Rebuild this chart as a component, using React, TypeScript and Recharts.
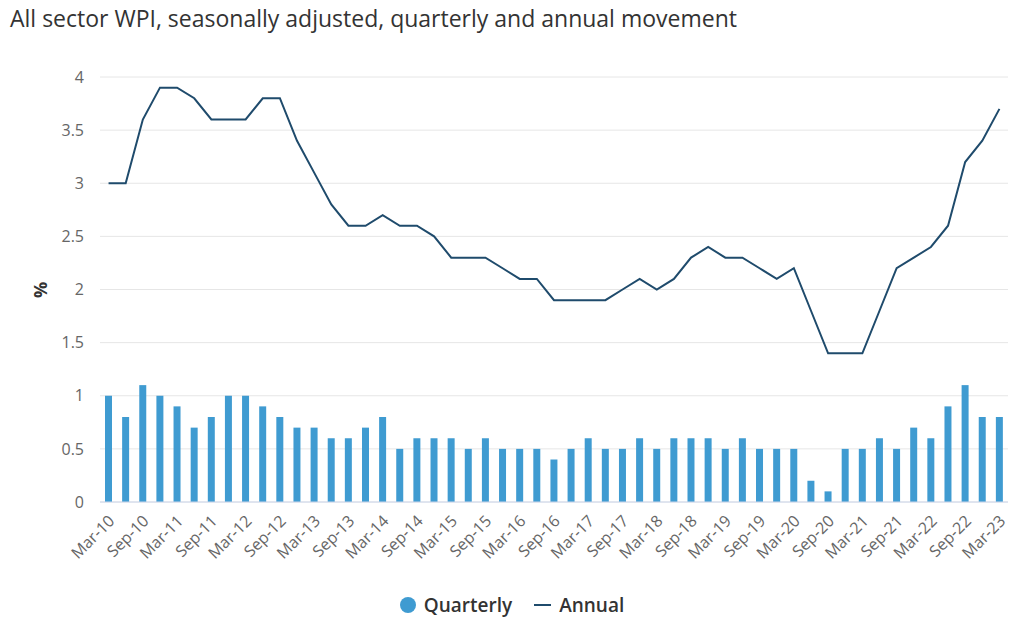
import React from 'react';
import { ComposedChart, Bar, Line, XAxis, YAxis, CartesianGrid, Legend } from 'recharts';

const quarters: string[] = [
  'Mar-10','Jun-10','Sep-10','Dec-10','Mar-11','Jun-11','Sep-11','Dec-11',
  'Mar-12','Jun-12','Sep-12','Dec-12','Mar-13','Jun-13','Sep-13','Dec-13',
  'Mar-14','Jun-14','Sep-14','Dec-14','Mar-15','Jun-15','Sep-15','Dec-15',
  'Mar-16','Jun-16','Sep-16','Dec-16','Mar-17','Jun-17','Sep-17','Dec-17',
  'Mar-18','Jun-18','Sep-18','Dec-18','Mar-19','Jun-19','Sep-19','Dec-19',
  'Mar-20','Jun-20','Sep-20','Dec-20','Mar-21','Jun-21','Sep-21','Dec-21',
  'Mar-22','Jun-22','Sep-22','Dec-22','Mar-23',
];

const quarterly: number[] = [
  1.0, 0.8, 1.1, 1.0, 0.9, 0.7, 0.8, 1.0,
  1.0, 0.9, 0.8, 0.7, 0.7, 0.6, 0.6, 0.7,
  0.8, 0.5, 0.6, 0.6, 0.6, 0.5, 0.6, 0.5,
  0.5, 0.5, 0.4, 0.5, 0.6, 0.5, 0.5, 0.6,
  0.5, 0.6, 0.6, 0.6, 0.5, 0.6, 0.5, 0.5,
  0.5, 0.2, 0.1, 0.5, 0.5, 0.6, 0.5, 0.7,
  0.6, 0.9, 1.1, 0.8, 0.8,
];

const annual: number[] = [
  3.0, 3.0, 3.6, 3.9, 3.9, 3.8, 3.6, 3.6,
  3.6, 3.8, 3.8, 3.4, 3.1, 2.8, 2.6, 2.6,
  2.7, 2.6, 2.6, 2.5, 2.3, 2.3, 2.3, 2.2,
  2.1, 2.1, 1.9, 1.9, 1.9, 1.9, 2.0, 2.1,
  2.0, 2.1, 2.3, 2.4, 2.3, 2.3, 2.2, 2.1,
  2.2, 1.8, 1.4, 1.4, 1.4, 1.8, 2.2, 2.3,
  2.4, 2.6, 3.2, 3.4, 3.7,
];

const yTicks: number[] = [0, 0.5, 1, 1.5, 2, 2.5, 3, 3.5, 4];

const data = quarters.map((q, i) => ({ q, quarterly: quarterly[i], annual: annual[i] }));

const FONT = '"Open Sans", "Noto Sans", sans-serif';
const BAR_COLOR = '#3f9bd1';
const LINE_COLOR = '#1f4b6c';

const XTick = (props: any) => {
  const { x, y, payload } = props;
  const tx = x + 7;
  const ty = y + 12;
  return (
    <text
      x={tx}
      y={ty}
      transform={`rotate(-45, ${tx}, ${ty})`}
      textAnchor="end"
      fill="#666666"
      fontSize={16}
      fontFamily={FONT}
    >
      {payload.value}
    </text>
  );
};

const LegendContent = () => (
  <div
    style={{
      display: 'flex',
      justifyContent: 'center',
      alignItems: 'center',
      fontFamily: FONT,
      fontSize: 19,
      fontWeight: 600,
      color: '#333333',
      height: 24,
    }}
  >
    <span style={{ display: 'inline-block', width: 16, height: 16, borderRadius: '50%', background: BAR_COLOR, marginRight: 8 }} />
    <span style={{ marginRight: 22 }}>Quarterly</span>
    <span style={{ display: 'inline-block', width: 17, height: 2, background: LINE_COLOR, marginRight: 8 }} />
    <span>Annual</span>
  </div>
);

export default function App() {
  return (
    <div style={{ position: 'absolute', left: 0, top: 0, width: 1024, height: 619, background: '#ffffff', overflow: 'hidden' }}>
      <div
        style={{
          position: 'absolute',
          left: 10,
          top: 2,
          fontFamily: FONT,
          fontSize: 23,
          color: '#333333',
          whiteSpace: 'nowrap',
        }}
      >
        All sector WPI, seasonally adjusted, quarterly and annual movement
      </div>
      <div
        style={{
          position: 'absolute',
          left: 32,
          top: 278,
          fontFamily: FONT,
          fontSize: 18,
          fontWeight: 700,
          color: '#333333',
          transform: 'rotate(-90deg)',
          transformOrigin: 'center',
        }}
      >
        %
      </div>
      <ComposedChart
        width={1024}
        height={619}
        data={data}
        margin={{ top: 77, right: 16, bottom: 0, left: 0 }}
        barCategoryGap={0}
      >
        <CartesianGrid vertical={false} stroke="#e6e6e6" />
        <XAxis
          dataKey="q"
          interval={1}
          tick={<XTick />}
          tickLine={false}
          axisLine={{ stroke: '#ccd6eb' }}
          height={93}
        />
        <YAxis
          width={100}
          domain={[0, 4]}
          ticks={yTicks}
          tickLine={false}
          axisLine={false}
          tickSize={0}
          tickMargin={16}
          tick={{ fill: '#666666', fontSize: 16, fontFamily: FONT }}
        />
        <Bar dataKey="quarterly" fill={BAR_COLOR} barSize={7} isAnimationActive={false} />
        <Line
          dataKey="annual"
          type="linear"
          stroke={LINE_COLOR}
          strokeWidth={2}
          dot={false}
          activeDot={false}
          isAnimationActive={false}
        />
        <Legend
          verticalAlign="bottom"
          content={<LegendContent />}
          wrapperStyle={{ position: 'absolute', top: 593, left: 0, width: 1024 }}
        />
      </ComposedChart>
    </div>
  );
}
